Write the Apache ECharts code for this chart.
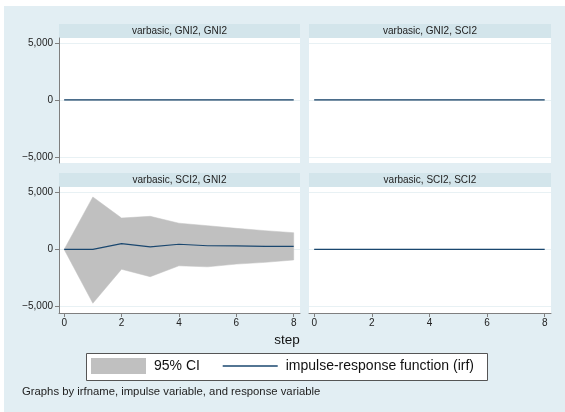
<!DOCTYPE html>
<html><head><meta charset="utf-8">
<script src="https://cdn.jsdelivr.net/npm/echarts@6/dist/echarts.min.js"></script>
<style>html,body{margin:0;padding:0;background:#fff}#c{width:565px;height:412px}</style>
</head><body><div id="c"></div>
<script>
// ---- data ----
const steps = [0, 1, 2, 3, 4, 5, 6, 7, 8];
const panelTitles = ['varbasic, GNI2, GNI2', 'varbasic, GNI2, SCI2', 'varbasic, SCI2, GNI2', 'varbasic, SCI2, SCI2'];
const irfGNI2_GNI2 = [0, 0, 0, 0, 0, 0, 0, 0, 0];
const irfGNI2_SCI2 = [0, 0, 0, 0, 0, 0, 0, 0, 0];
const irfSCI2_GNI2 = [0, 0, 500, 220, 450, 320, 310, 270, 270];
const irfSCI2_SCI2 = [0, 0, 0, 0, 0, 0, 0, 0, 0];
const loSCI2_GNI2 = [0, -4700, -1730, -2380, -1430, -1520, -1280, -1130, -920];
const upSCI2_GNI2 = [0, 4580, 2740, 2890, 2290, 2070, 1840, 1640, 1460];
const zeros = [0, 0, 0, 0, 0, 0, 0, 0, 0];
const yTicks = [-5000, 0, 5000];
const xTicks = [0, 2, 4, 6, 8];

const panels = [
  {irf: irfGNI2_GNI2, lo: zeros, up: zeros},
  {irf: irfGNI2_SCI2, lo: zeros, up: zeros},
  {irf: irfSCI2_GNI2, lo: loSCI2_GNI2, up: upSCI2_GNI2},
  {irf: irfSCI2_SCI2, lo: zeros, up: zeros}
];

// ---- layout ----
const gridBoxes = [
  {left: 59, top: 38, width: 241, height: 125},
  {left: 309, top: 38, width: 242, height: 125},
  {left: 59, top: 187, width: 241, height: 126},
  {left: 309, top: 187, width: 242, height: 126}
];
const NAVY = '#1a476f', CI = '#c0c0c0', AXIS = '#7f7f7f';
const FONT = 'Liberation Sans, Arial';
const fmt = v => v === 0 ? '0' : (v < 0 ? '\u2212' : '') + Math.abs(v).toLocaleString('en-US');

const grid = [], xAxis = [], yAxis = [], series = [], graphic = [];
gridBoxes.forEach((g, i) => {
  grid.push(Object.assign({show: true, backgroundColor: '#ffffff', borderWidth: 0}, g));
  const isLeft = i % 2 === 0, isBottom = i >= 2;
  xAxis.push({
    type: 'value', gridIndex: i, min: -0.18, max: 8.22,
    axisLine: {show: isBottom, onZero: false, lineStyle: {color: AXIS, width: 1}},
    axisTick: {show: isBottom, length: 4, lineStyle: {color: AXIS}, customValues: xTicks},
    axisLabel: {show: isBottom, customValues: xTicks, fontSize: 10, color: '#222', margin: 5, fontFamily: FONT},
    splitLine: {show: false}
  });
  yAxis.push({
    type: 'value', gridIndex: i, min: -5550, max: 5450,
    axisLine: {show: isLeft, onZero: false, lineStyle: {color: AXIS, width: 1}},
    axisTick: {show: isLeft, length: 4, lineStyle: {color: AXIS}, customValues: yTicks},
    axisLabel: {show: isLeft, customValues: yTicks, formatter: fmt, fontSize: 10, color: '#222', margin: 6, fontFamily: FONT},
    splitLine: {show: true, lineStyle: {color: '#e8f1f4', width: 1}}
  });
  const p = panels[i];
  series.push({
    type: 'custom', name: '95% CI', xAxisIndex: i, yAxisIndex: i, silent: true, z: 1,
    itemStyle: {color: CI},
    data: steps.map((s, k) => [s, p.lo[k], p.up[k]]),
    renderItem: function (params, api) {
      if (params.dataIndex !== 0) return null;
      const pts = [];
      for (let k = 0; k < steps.length; k++) pts.push(api.coord([steps[k], p.up[k]]));
      for (let k = steps.length - 1; k >= 0; k--) pts.push(api.coord([steps[k], p.lo[k]]));
      return {type: 'polygon', shape: {points: pts}, style: {fill: CI, stroke: CI, lineWidth: 0.5}};
    }
  });
  series.push({
    type: 'line', name: 'impulse-response function (irf)', xAxisIndex: i, yAxisIndex: i,
    data: steps.map((s, k) => [s, p.irf[k]]), symbol: 'none', showSymbol: false,
    lineStyle: {color: NAVY, width: 1.2}, itemStyle: {color: NAVY}, z: 3
  });
  // strip title
  graphic.push({type: 'rect', shape: {x: g.left, y: g.top - 14, width: g.width, height: 14}, style: {fill: '#d3e5eb'}, silent: true});
  graphic.push({type: 'text', x: g.left + g.width / 2, y: g.top - 7,
    style: {text: panelTitles[i], fill: '#222', font: '10px "Liberation Sans", Arial', align: 'center', verticalAlign: 'middle'}, silent: true});
});

// background, axis title, legend box, note
graphic.unshift({type: 'rect', shape: {x: 4, y: 6, width: 561, height: 406}, style: {fill: '#e2eef3'}, silent: true, z: -10});
graphic.push({type: 'text', x: 287, y: 340, style: {text: 'step', fill: '#111', font: '13.5px "Liberation Sans", Arial', align: 'center', verticalAlign: 'middle'}});
graphic.push({type: 'rect', shape: {x: 86.5, y: 353.5, width: 401, height: 27}, style: {fill: '#ffffff', stroke: '#555', lineWidth: 1}, z: -5});
graphic.push({type: 'text', x: 22, y: 392, style: {text: 'Graphs by irfname, impulse variable, and response variable', fill: '#222', font: '11.3px "Liberation Sans", Arial', align: 'left', verticalAlign: 'middle'}});

const chart = echarts.init(document.getElementById('c'), null, {renderer: 'canvas'});
chart.setOption({
  backgroundColor: '#ffffff',
  animation: false,
  grid, xAxis, yAxis, series, graphic,
  legend: {
    data: [
      {name: '95% CI', icon: 'rect', itemStyle: {color: CI}},
      {name: 'impulse-response function (irf)', itemStyle: {opacity: 0}, lineStyle: {color: NAVY, width: 1.6}}
    ],
    left: 86, top: 356, itemWidth: 55, itemHeight: 16, itemGap: 22,
    padding: [2, 5], selectedMode: false,
    textStyle: {fontSize: 14, color: '#111', fontFamily: FONT, padding: [0, 0, 0, 3]}
  }
});
</script>
</body></html>
